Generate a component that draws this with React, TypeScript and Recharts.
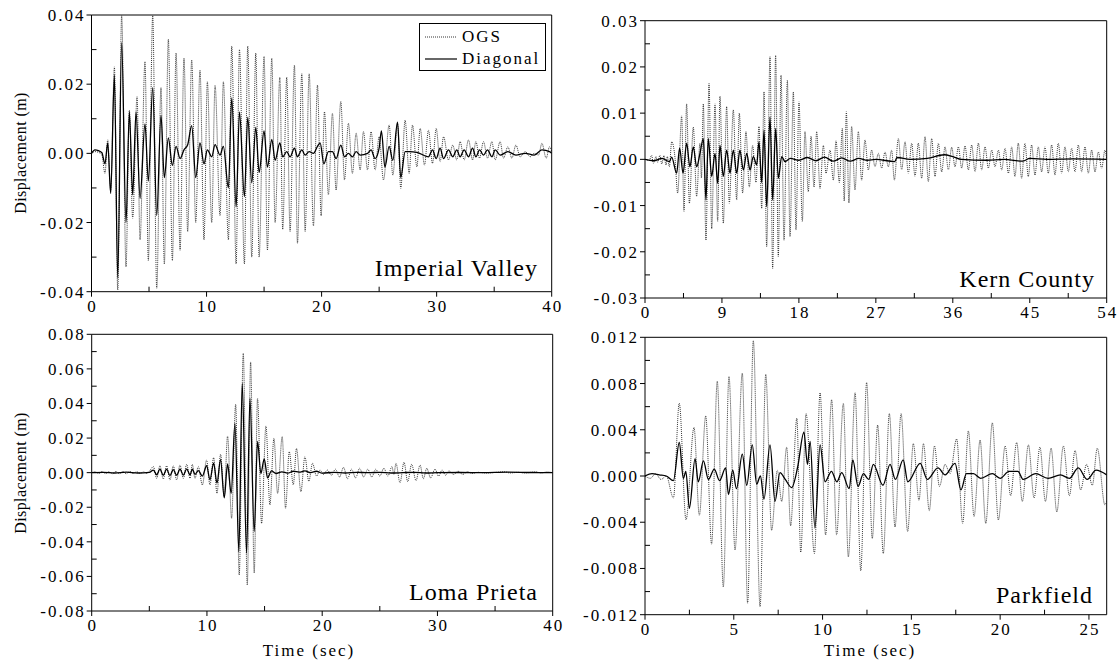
import React from 'react';
import { LineChart, Line, XAxis, YAxis, Legend } from 'recharts';

const FONT = '"Liberation Serif", "Times New Roman", Times, "DejaVu Serif", serif';
const W = 1119;
const H = 663;

// ---------- Imperial Valley ----------
const imperialOGS: number[][] = [
  [0, 0], [0.3, 0.0005], [0.6, 0.0003], [0.9, -0.0004], [1.17, -0.0058], [1.41, 0.0039], [1.67, -0.011],
  [1.99, 0.025], [2.28, -0.0395], [2.62, 0.0398], [3.0, -0.0328], [3.29, 0.0125], [3.58, -0.0188],
  [3.96, 0.0164], [4.22, -0.025], [4.65, 0.0265], [4.94, -0.031], [5.32, 0.0398], [5.67, -0.039],
  [6.04, 0.019], [6.33, -0.032], [6.68, 0.033], [7.03, -0.031], [7.35, 0.029], [7.7, -0.028],
  [8.04, 0.0275], [8.36, -0.0226], [8.71, 0.027], [9.06, -0.02], [9.43, 0.024], [9.78, -0.025],
  [10.07, 0.0207], [10.45, -0.02], [10.74, 0.0197], [11.17, -0.018], [11.46, 0.0207], [11.9, -0.025],
  [12.19, 0.031], [12.57, -0.032], [12.86, 0.03], [13.29, -0.032], [13.58, 0.031], [13.93, -0.03],
  [14.28, 0.029], [14.57, -0.03], [15.0, 0.028], [15.29, -0.028], [15.67, 0.0275], [15.96, -0.02],
  [16.37, 0.022], [16.62, -0.022], [16.97, 0.022], [17.26, -0.0226], [17.64, 0.0255], [17.9, -0.026],
  [18.28, 0.023], [18.57, -0.0226], [18.92, 0.023], [19.29, -0.021], [19.64, 0.0197], [19.96, -0.018],
  [20.25, 0.012], [20.59, -0.012], [20.94, 0.0116], [21.26, -0.0106], [21.67, 0.015], [21.99, -0.0077],
  [22.33, 0.0087], [22.68, -0.0058], [23.0, 0.0058], [23.35, -0.0048], [23.64, 0.0063], [23.99, -0.0048],
  [24.3, 0.0063], [24.65, -0.0048], [25.0, 0.0048], [25.38, -0.0077], [25.87, 0.0082], [26.19, -0.0063],
  [26.6, 0.0087], [26.88, -0.0101], [27.26, 0.0096], [27.61, -0.0058], [27.9, 0.0082], [28.28, -0.0039],
  [28.57, 0.0072], [28.94, -0.0034], [29.29, 0.0067], [29.64, -0.0029], [29.96, 0.0072], [30.3, -0.0024],
  [30.6, 0.0048], [31.03, -0.0019], [31.4, 0.0024], [31.75, -0.0019], [32.04, 0.0034], [32.39, -0.0019],
  [32.77, 0.0039], [33.12, -0.0019], [33.41, 0.0034], [33.73, -0.0014], [34.07, 0.0034], [34.42, -0.0014],
  [34.8, 0.0034], [35.09, -0.0019], [35.52, 0.0034], [35.81, -0.0014], [36.19, 0.0019], [36.54, -0.0014],
  [36.89, 0.0024], [37.26, -0.001], [37.7, 0.0005], [38.13, -0.001], [38.48, 0], [38.86, -0.0005],
  [39.15, 0.0029], [39.52, -0.0014], [39.81, 0.0019], [40, 0.0005],
];
const imperialDiag: number[][] = [
  [0, 0], [0.3, 0.001], [0.6, 0.0008], [0.9, 0.0002], [1.17, -0.003], [1.41, 0.003], [1.67, -0.0116],
  [1.99, 0.0226], [2.28, -0.036], [2.62, 0.032], [3.0, -0.02], [3.29, 0.012], [3.58, -0.012],
  [3.87, 0.012], [4.22, -0.013], [4.65, 0.0085], [4.94, -0.008], [5.32, 0.019], [5.67, -0.018],
  [6.04, 0.011], [6.33, -0.007], [6.68, 0.0045], [7.03, -0.0035], [7.35, 0.002], [7.7, -0.0015],
  [8.04, 0.001], [8.36, 0.0025], [8.71, 0.008], [9.06, -0.007], [9.43, 0.003], [9.78, -0.003],
  [10.07, 0.001], [10.45, -0.001], [10.74, 0.0025], [11.17, -0.0005], [11.46, 0.002], [11.9, -0.01],
  [12.19, 0.016], [12.57, -0.0155], [12.86, 0.012], [13.29, -0.0125], [13.58, 0.0105], [13.93, -0.0085],
  [14.28, 0.0075], [14.57, -0.0055], [15.0, 0.0065], [15.29, -0.004], [15.67, 0.004], [15.96, -0.002],
  [16.37, 0.003], [16.62, -0.001], [16.97, 0.0005], [17.26, -0.001], [17.64, 0.0015], [17.9, -0.001],
  [18.28, 0.001], [18.57, -0.0005], [18.92, 0.0005], [19.29, 0], [19.64, 0.002], [19.87, 0.003],
  [20.2, -0.003], [20.59, 0.0005], [20.94, 0.0005], [21.26, -0.0015], [21.67, 0.0024], [21.99, -0.001],
  [22.33, 0], [22.68, -0.001], [23.0, 0.0005], [23.35, -0.0005], [24.0, 0], [24.3, 0.001],
  [24.65, -0.0015], [25.0, 0.0015], [25.2, 0.0065], [25.5, -0.004], [25.87, 0.002], [26.19, -0.002],
  [26.6, 0.009], [26.88, -0.007], [27.26, 0.0005], [27.61, 0.0005], [28.28, 0.0003], [29.29, -0.001],
  [29.64, 0.001], [29.96, -0.0015], [30.3, 0.0015], [30.6, -0.0015], [31.03, 0.001], [31.4, -0.001],
  [31.75, 0.001], [32.04, -0.001], [32.39, 0.001], [32.77, -0.001], [33.12, 0.0015], [33.41, -0.001],
  [33.73, 0.001], [34.07, -0.0005], [34.42, 0.001], [34.8, -0.001], [35.09, 0.001], [35.52, -0.0005],
  [36.19, 0.0005], [36.89, -0.0005], [37.7, 0], [38.48, -0.0005], [39.15, 0.001], [39.81, 0.0005], [40, 0],
];

// ---------- Kern County ----------
const kernOGS: number[][] = [
  [0, 0], [0.5, -0.0002], [0.78, 0.0009], [0.97, -0.0009], [1.29, 0.0006], [1.48, -0.0007], [1.75, 0.0009],
  [1.95, -0.001], [2.22, 0.0008], [2.46, -0.0012], [2.61, 0.0006], [2.85, -0.0016], [3.12, 0.0038],
  [3.5, 0.0005], [3.82, -0.0073], [4.29, 0.0094], [4.56, -0.0113], [4.87, 0.012], [5.19, -0.0095],
  [5.65, 0.007], [6.04, -0.008], [6.43, 0.0035], [6.6, -0.004], [6.82, 0.012], [7.13, -0.0175],
  [7.49, 0.0164], [7.8, -0.015], [8.19, 0.012], [8.5, -0.0135], [8.77, 0.0137], [9.16, -0.0138],
  [9.55, 0.0114], [9.86, -0.0095], [10.33, 0.0107], [10.72, -0.0088], [11.03, 0.01], [11.42, -0.0073],
  [11.81, 0.006], [12.2, -0.006], [12.59, 0.003], [12.98, -0.005], [13.33, 0.0071], [13.65, -0.0106],
  [13.92, 0.0146], [14.23, -0.0189], [14.62, 0.0222], [14.93, -0.0236], [15.28, 0.0225], [15.59, -0.021],
  [15.91, 0.0182], [16.26, -0.0175], [16.65, 0.0171], [16.96, -0.0167], [17.35, 0.0146], [17.66, -0.0153],
  [18.01, 0.0125], [18.4, -0.0135], [18.71, 0.006], [19.1, -0.007], [19.42, 0.005], [19.77, -0.006],
  [20.08, 0.006], [20.47, -0.0063], [20.86, 0.003], [21.17, -0.003], [21.64, 0.002], [22.03, -0.0045],
  [22.34, 0.004], [22.73, -0.005], [23.08, 0.0067], [23.3, -0.009], [23.55, 0.0103], [23.85, -0.0094],
  [24.17, 0.0071], [24.56, -0.0066], [24.95, 0.006], [25.34, -0.0045], [25.73, 0.0042], [26.12, -0.0023],
  [26.51, 0.002], [26.9, -0.0016], [27.29, 0.0013], [27.68, -0.0019], [28.07, 0.0016], [28.46, -0.0016],
  [28.85, 0.002], [29.16, -0.0045], [29.63, 0.0045], [30.02, -0.0023], [30.41, 0.0038], [30.8, -0.003],
  [31.19, 0.0035], [31.58, -0.0037], [31.97, 0.0035], [32.36, -0.0041], [32.75, 0.0049], [33.14, -0.0048],
  [33.53, 0.0045], [33.92, -0.0037], [34.31, 0.0035], [34.7, -0.0027], [35.09, 0.0027], [35.48, -0.0023],
  [35.87, 0.0026], [36.26, -0.0016], [36.65, 0.0027], [37.04, -0.0019], [37.43, 0.0029], [37.82, -0.0023],
  [38.21, 0.0031], [38.6, -0.0027], [38.99, 0.0035], [39.38, -0.0023], [39.77, 0.0027], [40.16, -0.0019],
  [40.55, 0.002], [40.94, -0.0016], [41.33, 0.002], [41.72, -0.0023], [42.11, 0.0024], [42.5, -0.003],
  [42.89, 0.0027], [43.27, -0.0037], [43.66, 0.0035], [44.05, -0.0041], [44.44, 0.0035], [44.83, -0.0037],
  [45.22, 0.0031], [45.61, -0.0034], [46.0, 0.0027], [46.39, -0.0027], [46.78, 0.0027], [47.17, -0.003],
  [47.56, 0.0031], [47.95, -0.0034], [48.34, 0.0035], [48.73, -0.003], [49.12, 0.0027], [49.51, -0.0027],
  [49.9, 0.0024], [50.29, -0.0027], [50.68, 0.0031], [51.07, -0.0027], [51.46, 0.0027], [51.85, -0.003],
  [52.24, 0.002], [52.63, -0.0027], [53.02, 0.0016], [53.41, -0.0019], [53.8, 0.002], [54, 0],
];
const kernDiag: number[][] = [
  [0, 0], [1, -0.0003], [2, 0.0002], [2.85, -0.0005], [3.12, 0.0005], [3.7, -0.003], [4.05, 0.0024],
  [4.45, -0.003], [4.87, 0.0035], [5.25, -0.0016], [5.65, 0.0027], [6.04, -0.0016], [6.43, 0.0013],
  [6.82, 0.0045], [7.13, -0.0088], [7.4, 0.0045], [7.8, -0.0037], [8.19, 0.0013], [8.5, -0.0052],
  [8.77, 0.003], [9.16, -0.0037], [9.55, 0.002], [9.94, -0.003], [10.33, 0.002], [10.72, -0.003],
  [11.1, 0.002], [11.5, -0.0023], [11.9, 0.0013], [12.28, -0.0023], [12.67, 0.0006], [13.06, -0.0012],
  [13.33, 0.0038], [13.65, -0.005], [13.92, 0.0063], [14.23, -0.0102], [14.62, 0.0092], [14.93, -0.0088],
  [15.28, 0.0067], [15.59, -0.0041], [15.99, 0.0006], [16.38, -0.0005], [17, 0.0002], [18, -0.0002],
  [19, 0.0004], [20, -0.0003], [21, 0.0005], [22, -0.0004], [23, 0.0003], [24, -0.0004], [25, 0.0002],
  [26, -0.0002], [27, 0], [29.2, -0.0005], [29.5, 0.0004], [31, 0], [33, 0.0002], [35, 0.001],
  [36, 0.0006], [37, 0], [40, -0.0002], [42, 0], [44.2, -0.0004], [45, 0.0002], [47, 0], [50, 0.0001], [54, 0],
];

// ---------- Loma Prieta ----------
const lomaOGS: number[][] = [
  [0, 0], [0.3, 0.0005], [0.6, -0.0005], [0.9, 0.0006], [1.2, -0.0005], [1.5, 0.0005], [1.8, -0.0006],
  [2.1, 0.0007], [2.4, -0.0006], [2.7, 0.0006], [3.0, -0.0006], [3.3, 0.0007], [3.6, -0.0005],
  [3.9, 0.0005], [4.2, -0.0004], [4.5, 0.0004], [4.8, -0.0005], [5.05, 0.0012], [5.35, 0.0035],
  [5.64, -0.0033], [5.92, 0.004], [6.21, -0.0037], [6.5, 0.004], [6.79, -0.0042], [7.08, 0.0039],
  [7.37, -0.0042], [7.66, 0.0044], [7.95, -0.0033], [8.24, 0.0048], [8.53, -0.0033], [8.73, 0.0048],
  [8.96, -0.0033], [9.25, 0.0035], [9.6, -0.0071], [9.97, 0.0073], [10.26, -0.0071], [10.58, 0.0087],
  [10.87, -0.012], [11.18, 0.0106], [11.5, -0.0139], [11.79, 0.0212], [12.14, -0.0264], [12.49, 0.0395],
  [12.8, -0.0592], [13.15, 0.069], [13.5, -0.065], [13.79, 0.064], [14.1, -0.058], [14.39, 0.043],
  [14.74, -0.0293], [15.12, 0.027], [15.46, -0.0187], [15.81, 0.0198], [16.13, -0.012], [16.53, 0.0208],
  [16.82, -0.0206], [17.14, 0.0121], [17.49, -0.0071], [17.77, 0.014], [18.15, -0.011], [18.5, 0.0092],
  [18.84, -0.005], [19.16, 0.0054], [19.51, -0.002], [19.81, 0.0015], [20.1, -0.001], [20.45, 0.0015],
  [20.8, -0.0015], [21.15, 0.002], [21.5, -0.0025], [21.85, 0.003], [22.2, -0.0035], [22.55, 0.002],
  [22.9, -0.003], [23.25, 0.0025], [23.6, -0.0025], [23.95, 0.002], [24.3, -0.0025], [24.65, 0.002],
  [25.0, -0.002], [25.35, 0.0025], [25.7, -0.002], [26.05, 0.0035], [26.22, -0.001], [26.4, 0.0054],
  [26.75, -0.0058], [27.1, 0.006], [27.42, -0.0052], [27.76, 0.0048], [28.14, -0.0046], [28.49, 0.0044],
  [28.78, -0.0035], [29.07, 0.0025], [29.41, -0.003], [29.79, 0.002], [30.1, -0.002], [30.4, 0.0015],
  [30.7, -0.0015], [31.0, 0.001], [31.4, -0.001], [31.8, 0.0008], [32.2, -0.001], [32.6, 0.0005],
  [33.0, -0.0005], [33.5, 0.0002], [34.2, -0.0002], [35.0, 0.0001], [35.8, 0.0005], [36.3, -0.0002],
  [37.0, 0.0002], [37.6, -0.0002], [38.5, 0.0005], [39.0, -0.0002], [39.5, 0.0004], [40, 0],
];
const lomaDiag: number[][] = [
  [0, 0], [1, 0.0002], [2, -0.0002], [3, 0.0003], [4, -0.0002], [5, 0.0002], [5.35, 0.0015],
  [5.64, -0.0012], [5.92, 0.002], [6.21, -0.0015], [6.5, 0.002], [6.79, -0.0017], [7.08, 0.0018],
  [7.37, -0.0015], [7.66, 0.002], [7.95, -0.0014], [8.24, 0.0022], [8.53, -0.0012], [8.73, 0.002],
  [8.96, -0.001], [9.25, 0.0012], [9.6, -0.002], [9.97, 0.004], [10.26, -0.004], [10.58, 0.0055],
  [10.87, -0.006], [11.18, 0.0075], [11.5, -0.0145], [11.79, 0.005], [12.1, -0.012], [12.43, 0.0285],
  [12.77, -0.0457], [13.06, 0.0516], [13.44, -0.0466], [13.73, 0.043], [14.1, -0.034], [14.39, 0.018],
  [14.68, -0.0005], [14.97, 0.008], [15.26, -0.003], [15.6, 0.001], [16, -0.0005], [16.5, 0.0005],
  [17, -0.0003], [17.5, 0.0008], [18, 0.0003], [18.5, 0.001], [19, 0], [19.5, 0.0008], [20, -0.0003],
  [21, 0.0002], [22, -0.0002], [23, 0.0002], [24, 0], [25, 0.0002], [26, -0.0002], [27, 0],
  [28, 0.0002], [29, -0.0002], [30, 0], [32, 0.0001], [34, 0], [36, 0.0003], [38, 0.0001], [40, 0],
];

// ---------- Parkfield ----------
const parkOGS: number[][] = [
  [0, 0], [0.3, -0.0002], [0.6, 0.0002], [0.9, -0.0003], [1.2, 0], [1.6, -0.0019], [1.93, 0.0063],
  [2.31, -0.0038], [2.76, 0.0042], [3.06, -0.0034], [3.42, 0.0052], [3.75, -0.0059], [4.07, 0.0082],
  [4.41, -0.0096], [4.73, 0.0086], [5.07, -0.0064], [5.48, 0.0089], [5.78, -0.011], [6.1, 0.0117],
  [6.48, -0.0113], [6.8, 0.0088], [7.13, -0.0047], [7.45, 0.0005], [7.7, -0.0022], [7.98, 0.0025],
  [8.2, -0.0043], [8.55, 0.005], [8.77, -0.0066], [9.07, 0.0054], [9.54, -0.0067], [9.86, 0.0072],
  [10.17, -0.0051], [10.51, 0.0066], [10.79, -0.0051], [11.17, 0.0063], [11.45, -0.007], [11.83, 0.0072],
  [12.15, -0.0082], [12.48, 0.0081], [12.8, -0.0054], [13.1, 0.0044], [13.42, -0.0067], [13.76, 0.0054],
  [14.08, -0.0044], [14.42, 0.0054], [14.79, -0.0048], [15.11, 0.0028], [15.43, -0.0021], [15.68, 0.0028],
  [16.01, -0.003], [16.3, 0.0026], [16.58, -0.0009], [16.9, 0.001], [17.18, 0.0002], [17.55, 0.0032],
  [17.89, -0.0041], [18.21, 0.0039], [18.53, -0.0035], [18.87, 0.0031], [19.19, -0.0041], [19.56, 0.0046],
  [19.9, -0.0038], [20.28, 0.0026], [20.59, -0.0017], [20.93, 0.0029], [21.25, -0.0022], [21.59, 0.0027],
  [21.91, -0.0019], [22.24, 0.0025], [22.55, -0.0022], [22.87, 0.0024], [23.19, -0.0031], [23.56, 0.0026],
  [23.9, -0.0017], [24.22, 0.0022], [24.53, -0.0012], [24.87, 0.001], [25.19, -0.0008], [25.47, 0.0024],
  [25.9, -0.0025], [26, -0.0022],
];
const parkDiag: number[][] = [
  [0, 0], [0.4, 0.0002], [0.8, 0.0001], [1.2, 0], [1.6, -0.0004], [1.93, 0.0029], [2.16, -0.0002],
  [2.3, 0.0004], [2.5, -0.0028], [2.82, 0.0015], [3.0, -0.0005], [3.29, 0.0013], [3.57, -0.0003],
  [3.9, 0.0006], [4.2, -0.0004], [4.54, 0.0007], [4.7, -0.0016], [4.94, 0.0005], [5.15, -0.0011],
  [5.48, 0.0019], [5.73, -0.0008], [6.04, 0.0027], [6.29, -0.0007], [6.5, 0], [6.7, -0.002],
  [7.04, 0.0027], [7.32, -0.0022], [7.6, 0.0003], [7.9, -0.0003], [8.26, -0.001], [8.6, 0.0008],
  [8.95, 0.0038], [9.15, 0.001], [9.3, 0.003], [9.57, -0.0045], [9.86, 0.0027], [10.14, -0.0005],
  [10.5, 0.0004], [10.8, -0.0005], [11.08, 0.0003], [11.5, -0.0011], [11.7, 0.0014], [12.0, -0.0009],
  [12.3, 0.0002], [12.6, -0.0003], [12.86, 0.001], [13.4, -0.0008], [13.8, 0.001], [14.1, -0.0003],
  [14.54, 0.0014], [14.8, -0.0005], [15.5, 0.0011], [15.9, -0.0003], [16.5, 0.0007], [16.9, 0.0001],
  [17.46, 0.0011], [17.79, -0.0012], [18.1, 0.0002], [18.5, 0.0002], [18.9, -0.0002], [19.56, 0.0002],
  [20.0, -0.0002], [20.5, 0.0004], [21.0, 0.0004], [21.3, -0.0003], [22.0, 0.0002], [22.7, -0.0002],
  [23.4, 0.0001], [23.9, -0.0002], [24.4, 0.0007], [24.9, -0.0003], [25.4, 0.0005], [26.0, 0.0001],
];

// ---------- tick labels ----------
const ivXMajor = [0, 10, 20, 30, 40];
const ivXMinor = [5, 15, 25, 35];
const ivYMajor = [-0.04, -0.02, 0, 0.02, 0.04];
const ivYMinor = [-0.03, -0.01, 0.01, 0.03];

const kernXMajor = [0, 9, 18, 27, 36, 45, 54];
const kernXMinor = [4.5, 13.5, 22.5, 31.5, 40.5, 49.5];
const kernYMajor = [-0.03, -0.02, -0.01, 0, 0.01, 0.02, 0.03];
const kernYMinor = [-0.025, -0.015, -0.005, 0.005, 0.015, 0.025];

const lomaXMajor = [0, 10, 20, 30, 40];
const lomaXMinor = [5, 15, 25, 35];
const lomaYMajor = [-0.08, -0.06, -0.04, -0.02, 0, 0.02, 0.04, 0.06, 0.08];
const lomaYMinor = [-0.07, -0.05, -0.03, -0.01, 0.01, 0.03, 0.05, 0.07];

const parkXMajor = [0, 5, 10, 15, 20, 25];
const parkXMinor = [2.5, 7.5, 12.5, 17.5, 22.5];
const parkYMajor = [-0.012, -0.008, -0.004, 0, 0.004, 0.008, 0.012];
const parkYMinor = [-0.01, -0.006, -0.002, 0.002, 0.006, 0.01];

const legendOrder = ['OGS', 'Diagonal'];

type Rect = { x1: number; y1: number; x2: number; y2: number };

interface PanelProps {
  rect: Rect;
  xDomain: [number, number];
  xMajor: number[];
  xMinor: number[];
  yDomain: [number, number];
  yMajor: number[];
  yMinor: number[];
  yDec: number;
  ogs: number[][];
  diag: number[][];
  legend?: boolean;
}

const isIn = (arr: number[], v: number) => arr.some((m) => Math.abs(m - v) < 1e-9);
const tickText = { fontFamily: FONT, fontSize: 17, letterSpacing: '2px', fill: '#000' } as const;

const renderLegend = (props: any) => {
  const items: any[] = [...(props.payload || [])].sort(
    (a: any, b: any) => legendOrder.indexOf(a.value) - legendOrder.indexOf(b.value)
  );
  return (
    <div
      style={{
        width: 127,
        height: 48,
        boxSizing: 'border-box',
        border: '1px solid #000',
        background: '#fff',
        paddingTop: 2,
        fontFamily: FONT,
        fontSize: 17,
        letterSpacing: '2px',
        color: '#000',
      }}
    >
      {items.map((e: any) => (
        <div key={e.value} style={{ display: 'flex', alignItems: 'center', height: 22, lineHeight: '22px' }}>
          <svg width={42} height={10} style={{ display: 'block' }}>
            <line
              x1={5}
              x2={37}
              y1={5}
              y2={5}
              stroke="#000"
              strokeWidth={e.value === 'OGS' ? 0.8 : 1.2}
              strokeDasharray={e.value === 'OGS' ? '1 1' : undefined}
            />
          </svg>
          <span>{e.value}</span>
        </div>
      ))}
    </div>
  );
};

function Panel(p: PanelProps) {
  const { rect } = p;
  const YW = 80;
  const XH = 40;
  const margin = { left: rect.x1 - YW, top: rect.y1, right: W - rect.x2, bottom: H - rect.y2 - XH };
  const xAll = [...p.xMajor, ...p.xMinor].sort((a, b) => a - b);
  const yAll = [...p.yMajor, ...p.yMinor].sort((a, b) => a - b);
  const ogsData = p.ogs.map(([t, v]) => ({ t, v }));
  const diagData = p.diag.map(([t, v]) => ({ t, v }));

  const bottomTick = (tp: any) => {
    const v = tp.payload.value;
    const major = isIn(p.xMajor, v);
    const x = tp.x;
    return (
      <g>
        <line x1={x} x2={x} y1={rect.y2} y2={major ? rect.y2 + 5 : rect.y2 - 5} stroke="#000" strokeWidth={1} />
        {major && (
          <text x={x + 1} y={rect.y2 + 20} textAnchor="middle" style={tickText}>
            {String(v)}
          </text>
        )}
      </g>
    );
  };
  const leftTick = (tp: any) => {
    const v = tp.payload.value;
    const major = isIn(p.yMajor, v);
    const y = tp.y;
    return (
      <g>
        <line x1={rect.x1} x2={major ? rect.x1 - 5 : rect.x1 + 5} y1={y} y2={y} stroke="#000" strokeWidth={1} />
        {major && (
          <text x={rect.x1 - 6} y={y + 6} textAnchor="end" style={tickText}>
            {v.toFixed(p.yDec)}
          </text>
        )}
      </g>
    );
  };

  return (
    <div style={{ position: 'absolute', left: 0, top: 0 }}>
      <LineChart width={W} height={H} margin={margin}>
        <XAxis
          xAxisId="b"
          type="number"
          dataKey="t"
          domain={p.xDomain}
          allowDataOverflow
          ticks={xAll}
          interval={0}
          height={XH}
          axisLine={{ stroke: '#000', strokeWidth: 1 }}
          tickLine={false}
          tick={bottomTick}
        />
        <XAxis
          xAxisId="t"
          orientation="top"
          mirror
          type="number"
          dataKey="t"
          domain={p.xDomain}
          allowDataOverflow
          ticks={xAll}
          interval={0}
          tick={false}
          tickSize={5}
          tickLine={{ stroke: '#000' }}
          axisLine={{ stroke: '#000', strokeWidth: 1 }}
        />
        <YAxis
          yAxisId="l"
          type="number"
          domain={p.yDomain}
          allowDataOverflow
          ticks={yAll}
          interval={0}
          width={YW}
          axisLine={{ stroke: '#000', strokeWidth: 1 }}
          tickLine={false}
          tick={leftTick}
        />
        <YAxis
          yAxisId="r"
          orientation="right"
          mirror
          type="number"
          domain={p.yDomain}
          allowDataOverflow
          ticks={yAll}
          interval={0}
          tick={false}
          tickSize={5}
          tickLine={{ stroke: '#000' }}
          axisLine={{ stroke: '#000', strokeWidth: 1 }}
        />
        <Line
          xAxisId="b"
          yAxisId="l"
          data={ogsData}
          dataKey="v"
          name="OGS"
          type="monotone"
          stroke="#222"
          strokeWidth={0.9}
          strokeDasharray="1 1"
          dot={false}
          isAnimationActive={false}
        />
        <Line
          xAxisId="b"
          yAxisId="l"
          data={diagData}
          dataKey="v"
          name="Diagonal"
          type="monotone"
          stroke="#000"
          strokeWidth={1.3}
          dot={false}
          isAnimationActive={false}
        />
        {p.legend && (
          <Legend
            layout="vertical"
            align="center"
            verticalAlign="middle"
            content={renderLegend}
            wrapperStyle={{ position: 'absolute', left: 419, top: 23, width: 127, height: 48 }}
          />
        )}
      </LineChart>
    </div>
  );
}

const labelStyle = { fontFamily: FONT, fontSize: 24, letterSpacing: '1px', fill: '#000' } as const;
const titleStyle = { fontFamily: FONT, fontSize: 17, letterSpacing: '2px', fill: '#000' } as const;
const yTitleStyle = { fontFamily: FONT, fontSize: 16, letterSpacing: '0.4px', fill: '#000' } as const;

export default function App() {
  return (
    <div style={{ position: 'absolute', left: 0, top: 0, width: W, height: H, background: '#fff', overflow: 'hidden' }}>
      <Panel
        rect={{ x1: 91.5, y1: 15, x2: 551.7, y2: 291.7 }}
        xDomain={[0, 40]}
        xMajor={ivXMajor}
        xMinor={ivXMinor}
        yDomain={[-0.04, 0.04]}
        yMajor={ivYMajor}
        yMinor={ivYMinor}
        yDec={2}
        ogs={imperialOGS}
        diag={imperialDiag}
        legend
      />
      <Panel
        rect={{ x1: 645, y1: 20.7, x2: 1106.7, y2: 298 }}
        xDomain={[0, 54]}
        xMajor={kernXMajor}
        xMinor={kernXMinor}
        yDomain={[-0.03, 0.03]}
        yMajor={kernYMajor}
        yMinor={kernYMinor}
        yDec={2}
        ogs={kernOGS}
        diag={kernDiag}
      />
      <Panel
        rect={{ x1: 91.7, y1: 334.3, x2: 552.7, y2: 611 }}
        xDomain={[0, 40]}
        xMajor={lomaXMajor}
        xMinor={lomaXMinor}
        yDomain={[-0.08, 0.08]}
        yMajor={lomaYMajor}
        yMinor={lomaYMinor}
        yDec={2}
        ogs={lomaOGS}
        diag={lomaDiag}
      />
      <Panel
        rect={{ x1: 645, y1: 337.3, x2: 1106.7, y2: 614.7 }}
        xDomain={[0, 26]}
        xMajor={parkXMajor}
        xMinor={parkXMinor}
        yDomain={[-0.012, 0.012]}
        yMajor={parkYMajor}
        yMinor={parkYMinor}
        yDec={3}
        ogs={parkOGS}
        diag={parkDiag}
      />
      <svg width={W} height={H} style={{ position: 'absolute', left: 0, top: 0, pointerEvents: 'none' }}>
        <text x={538} y={276} textAnchor="end" style={labelStyle}>Imperial Valley</text>
        <text x={1095} y={287} textAnchor="end" style={labelStyle}>Kern County</text>
        <text x={538} y={600} textAnchor="end" style={labelStyle}>Loma Prieta</text>
        <text x={1093} y={603} textAnchor="end" style={labelStyle}>Parkfield</text>
        <text x={309} y={656} textAnchor="middle" style={titleStyle}>Time (sec)</text>
        <text x={870} y={656} textAnchor="middle" style={titleStyle}>Time (sec)</text>
        <text transform="translate(26,153) rotate(-90)" textAnchor="middle" style={yTitleStyle}>Displacement (m)</text>
        <text transform="translate(26,473) rotate(-90)" textAnchor="middle" style={yTitleStyle}>Displacement (m)</text>
      </svg>
    </div>
  );
}
